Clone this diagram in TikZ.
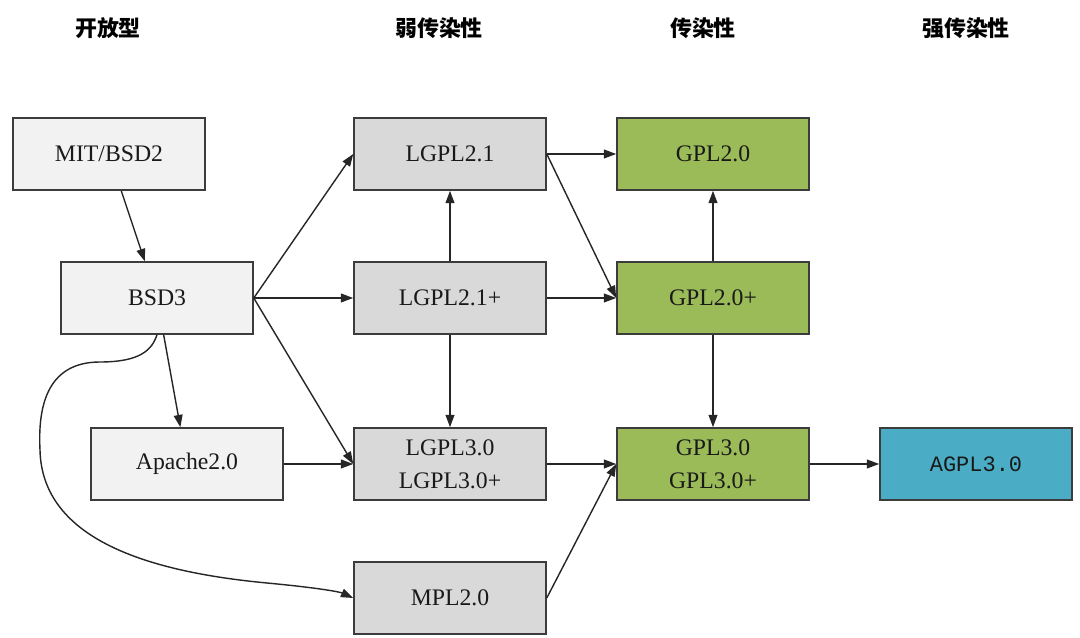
\documentclass[tikz,border=0pt]{standalone}
\usepackage{fontspec}
\setmainfont{Liberation Serif}
\newfontfamily\cjk{Noto Sans CJK SC}
\newfontfamily\agplfont{Liberation Mono}
\usetikzlibrary{arrows.meta}
\definecolor{boxline}{HTML}{3C3C3C}
\definecolor{openfill}{HTML}{F2F2F2}
\definecolor{weakfill}{HTML}{D9D9D9}
\definecolor{gplfill}{HTML}{9BBB59}
\definecolor{agplfill}{HTML}{4BACC6}

\begin{document}
\begin{tikzpicture}[x=0.02cm, y=-0.02cm,
	lic/.style={draw=boxline, line width=0.9pt, minimum width=3.84cm, minimum height=1.44cm, inner sep=0pt, align=center, text=black!90, font=\fontsize{13.5}{19}\selectfont},
	link/.style={line width=0.8pt, draw=black!85, -{Triangle[length=7pt,width=5pt]}},
	head/.style={font=\cjk\bfseries\fontsize{12.5}{15}\selectfont}]
	\useasboundingbox[fill=white] (0,0) rectangle (1080,638);
	% column titles
	\node[head] (h1) at (108,28) {开放型};
	\node[head] (h2) at (439,28) {弱传染性};
	\node[head] (h3) at (703,28) {传染性};
	\node[head] (h4) at (966,28) {强传染性};
	% licences
	\node[lic, fill=openfill] (mit) at (109,154) {MIT/BSD2};
	\node[lic, fill=openfill] (bsd3) at (157,298) {BSD3};
	\node[lic, fill=openfill] (apache) at (187,464) {Apache2.0};
	\node[lic, fill=weakfill] (lgpl21) at (450,154) {LGPL2.1};
	\node[lic, fill=weakfill] (lgpl21p) at (450,298) {LGPL2.1+};
	\node[lic, fill=weakfill] (lgpl30) at (450,464) {LGPL3.0\\LGPL3.0+};
	\node[lic, fill=weakfill] (mpl) at (450,598) {MPL2.0};
	\node[lic, fill=gplfill] (gpl20) at (713,154) {GPL2.0};
	\node[lic, fill=gplfill] (gpl20p) at (713,298) {GPL2.0+};
	\node[lic, fill=gplfill] (gpl30) at (713,464) {GPL3.0\\GPL3.0+};
	\node[lic, fill=agplfill, font=\agplfont\fontsize{12.5}{15}\selectfont] (agpl) at (976,464) {AGPL3.0};
	% arrows
	\draw[link] (mit) -- (bsd3);
	\draw[link] (bsd3) -- (apache);
	\draw[link] (bsd3.east) -- (lgpl21.west);
	\draw[link] (bsd3.east) -- (lgpl21p.west);
	\draw[link] (bsd3.east) -- (lgpl30.west);
	\draw[link] (bsd3.south) .. controls (152,350) and (140,362) .. (100,362) .. controls (45,362) and (38,410) .. (40,450) .. controls (42,540) and (150,572) .. (267,583) .. controls (320,588) and (340,592) .. (mpl.west);
	\draw[link] (apache) -- (lgpl30);
	\draw[link] (lgpl21p) -- (lgpl21);
	\draw[link] (lgpl21p) -- (lgpl30);
	\draw[link] (lgpl21) -- (gpl20);
	\draw[link] (lgpl21.east) -- (gpl20p.west);
	\draw[link] (lgpl21p) -- (gpl20p);
	\draw[link] (lgpl30) -- (gpl30);
	\draw[link] (mpl.east) -- (gpl30.west);
	\draw[link] (gpl20p) -- (gpl20);
	\draw[link] (gpl20p) -- (gpl30);
	\draw[link] (gpl30) -- (agpl);
\end{tikzpicture}
\end{document}
